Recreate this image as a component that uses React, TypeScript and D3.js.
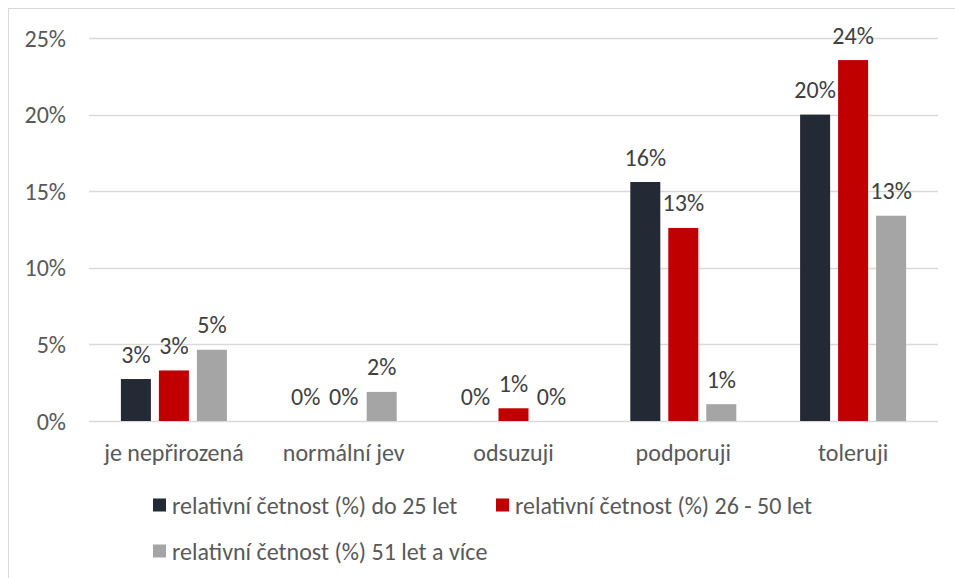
import React from "react";
import * as d3 from "d3";

const categories = ["je nepřirozená", "normální jev", "odsuzuji", "podporuji", "toleruji"];
const seriesNames = [
  "relativní četnost (%) do 25 let",
  "relativní četnost (%) 26 - 50 let",
  "relativní četnost (%) 51 let a více",
];
const seriesDo25 = [2.74, 0, 0, 15.6, 20.0];
const series26to50 = [3.3, 0, 0.83, 12.6, 23.56];
const series51plus = [4.65, 1.9, 0, 1.1, 13.4];
const yTicks = [0, 5, 10, 15, 20, 25];
const colors = ["#242A35", "#C00000", "#A5A5A5"];

const W = 955;
const H = 578;
const FONT = "Carlito, Calibri, Lato, sans-serif";
const TEXT = "#595959";
const FS = 24;

export default function App() {
  const allSeries = [seriesDo25, series26to50, series51plus];
  const plotLeft = 89;
  const plotRight = 938;
  const plotTop = 38;
  const plotBottom = 421;

  const y = d3.scaleLinear().domain([0, 25]).range([plotBottom, plotTop]);
  const x0 = d3.scaleBand<string>().domain(categories).range([plotLeft, plotRight]);
  const groupW = 106;
  const x1 = d3
    .scaleBand<number>()
    .domain([0, 1, 2])
    .range([0, groupW])
    .paddingInner(0.21);

  const legendItems = [
    { i: 0, x: 153, y: 505 },
    { i: 1, x: 496, y: 505 },
    { i: 2, x: 153, y: 551 },
  ];

  return (
    <svg
      width={W}
      height={H}
      style={{ position: "absolute", left: 0, top: 0 }}
      fontFamily={FONT}
    >
      <rect x={0} y={0} width={W} height={H} fill="#fff" />
      <rect x={8.5} y={8.5} width={W + 10} height={H + 10} fill="none" stroke="#D9D9D9" strokeWidth={1} />
      {yTicks.map((t) => (
        <g key={t}>
          <line
            x1={plotLeft}
            x2={plotRight}
            y1={Math.round(y(t)) + 0.5}
            y2={Math.round(y(t)) + 0.5}
            stroke="#D9D9D9"
            strokeWidth={1.3}
          />
          <text
            x={66}
            y={y(t)}
            textAnchor="end"
            dominantBaseline="central"
            fontSize={FS}
            fill={TEXT}
          >
            {t}%
          </text>
        </g>
      ))}
      {categories.map((c, ci) => {
        const gx = (x0(c) as number) + (x0.bandwidth() - groupW) / 2;
        return (
          <g key={c}>
            {allSeries.map((s, si) => {
              const v = s[ci];
              const bx = gx + (x1(si) as number);
              const bw = x1.bandwidth();
              return (
                <g key={si}>
                  {v > 0 && (
                    <rect x={bx} y={y(v)} width={bw} height={y(0) - y(v)} fill={colors[si]} />
                  )}
                  <text
                    x={bx + bw / 2}
                    y={y(v) - 25}
                    textAnchor="middle"
                    dominantBaseline="central"
                    fontSize={FS}
                    fill="#404040"
                  >
                    {Math.round(v)}%
                  </text>
                </g>
              );
            })}
            <text
              x={(x0(c) as number) + x0.bandwidth() / 2}
              y={452}
              textAnchor="middle"
              dominantBaseline="central"
              fontSize={FS}
              fill={TEXT}
            >
              {c}
            </text>
          </g>
        );
      })}
      {legendItems.map((it) => (
        <g key={it.i}>
          <rect x={it.x} y={it.y - 6.5} width={13} height={13} fill={colors[it.i]} />
          <text x={it.x + 19} y={it.y} dominantBaseline="central" fontSize={FS} fill={TEXT}>
            {seriesNames[it.i]}
          </text>
        </g>
      ))}
    </svg>
  );
}
